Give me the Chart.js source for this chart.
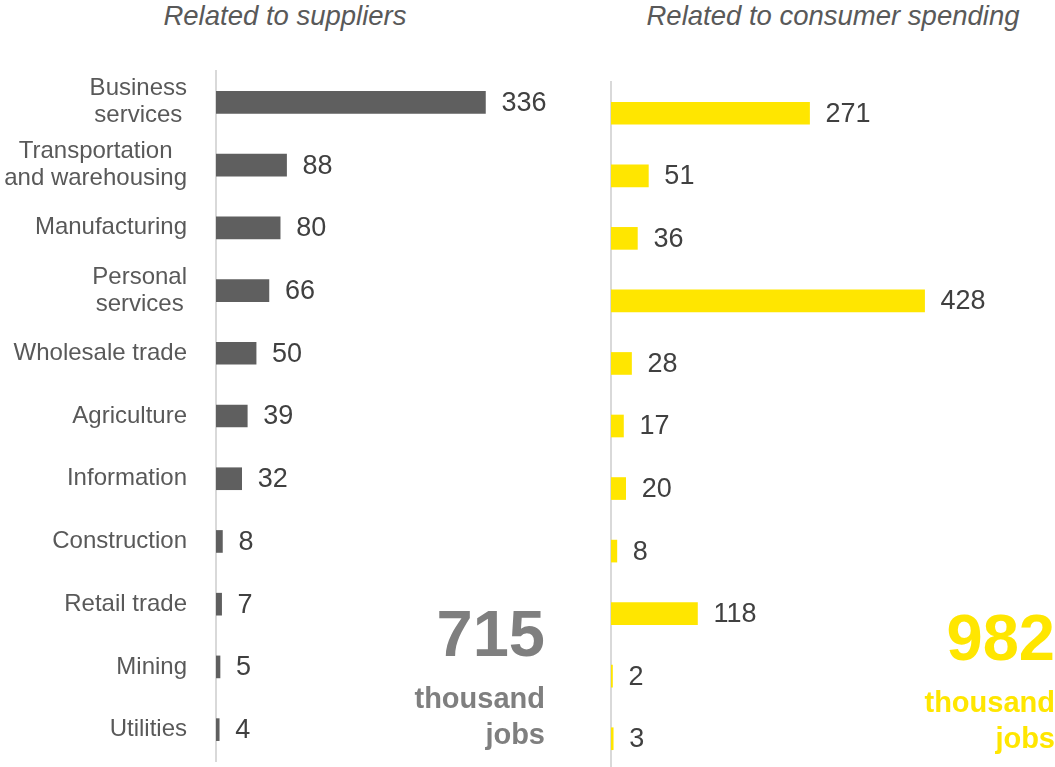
<!DOCTYPE html>
<html lang="en">
<head>
<meta charset="utf-8">
<title>Jobs related to suppliers and consumer spending</title>
<script src="https://cdn.jsdelivr.net/npm/chart.js"></script>
<style>
	html, body { margin: 0; padding: 0; background: #fff; overflow: hidden; }
	body { width: 1055px; height: 767px; position: relative; font-family: "Liberation Sans", Arial, sans-serif; }
	canvas { position: absolute; top: 0; }
	#leftChart { left: 0; }
	#rightChart { left: 560px; }
	.title { position: absolute; top: 0; font-style: italic; font-size: 27.5px; color: #595959; text-align: center; }
	.total { position: absolute; text-align: right; font-weight: bold; }
	.total .num { font-size: 65px; line-height: 66px; }
	.total .unit { font-size: 29px; line-height: 36px; margin-top: 13px; }
</style>
</head>
<body>
	<div class="title" style="left: 135px; width: 300px;">Related to suppliers</div>
	<div class="title" style="left: 613px; width: 440px;">Related to consumer spending</div>

	<canvas id="leftChart" width="560" height="767"></canvas>
	<canvas id="rightChart" width="495" height="772"></canvas>

	<div class="total" style="right: 510px; top: 601px; color: #7f7f7f;">
		<div class="num">715</div>
		<div class="unit">thousand<br>jobs</div>
	</div>
	<div class="total" style="right: 0px; top: 605px; color: #ffe600;">
		<div class="num">982</div>
		<div class="unit">thousand<br>jobs</div>
	</div>

<script>
// data (thousand jobs)
const categories = [
	["Business", "services"],
	["Transportation", "and warehousing"],
	["Manufacturing"],
	["Personal", "services"],
	["Wholesale trade"],
	["Agriculture"],
	["Information"],
	["Construction"],
	["Retail trade"],
	["Mining"],
	["Utilities"]
];
const supplierJobs = [336, 88, 80, 66, 50, 39, 32, 8, 7, 5, 4];
const consumerJobs = [271, 51, 36, 428, 28, 17, 20, 8, 118, 2, 3];

const labelFont = '"Liberation Sans", Arial, sans-serif';

// value labels at the end of each bar
const valueLabels = {
	id: "valueLabels",
	afterDatasetsDraw(chart) {
		const ctx = chart.ctx;
		const meta = chart.getDatasetMeta(0);
		const data = chart.data.datasets[0].data;
		ctx.save();
		ctx.font = "27px " + labelFont;
		ctx.fillStyle = "#404040";
		ctx.textAlign = "left";
		ctx.textBaseline = "middle";
		meta.data.forEach((bar, i) => {
			ctx.fillText(data[i], bar.x + 16, bar.y + 1);
		});
		ctx.restore();
	}
};

// category labels: block right-aligned, lines centered in the block
const categoryLabels = {
	id: "categoryLabels",
	afterDraw(chart) {
		const ctx = chart.ctx;
		const yScale = chart.scales.y;
		const right = 187;
		const lineH = 27;
		ctx.save();
		ctx.font = "24px " + labelFont;
		ctx.fillStyle = "#595959";
		ctx.textAlign = "center";
		ctx.textBaseline = "middle";
		chart.data.labels.forEach((lines, i) => {
			const y = yScale.getPixelForTick(i);
			const w = Math.max(...lines.map(l => ctx.measureText(l).width));
			const cx = right - w / 2;
			const top = y - (lines.length - 1) * lineH / 2;
			lines.forEach((l, j) => ctx.fillText(l, cx, top + j * lineH));
		});
		ctx.restore();
	}
};

function makeChart(id, values, color, xMax, padding, plugins) {
	return new Chart(document.getElementById(id), {
		type: "bar",
		data: {
			labels: categories,
			datasets: [{
				data: values,
				backgroundColor: color,
				barThickness: 22
			}]
		},
		options: {
			indexAxis: "y",
			responsive: false,
			animation: false,
			layout: { padding: padding },
			plugins: {
				legend: { display: false },
				tooltip: { enabled: false }
			},
			scales: {
				x: { display: false, min: 0, max: xMax },
				y: {
					ticks: { display: false },
					grid: { display: false },
					border: { display: true, color: "#d9d9d9", width: 2 },
					afterFit(scale) { scale.width = 0; }
				}
			}
		},
		plugins: plugins
	});
}

makeChart("leftChart", supplierJobs, "#5f5f5f", 429,
	{ left: 216, right: 0, top: 71, bottom: 6 }, [valueLabels, categoryLabels]);
makeChart("rightChart", consumerJobs, "#ffe600", 606,
	{ left: 51, right: 0, top: 82, bottom: 2 }, [valueLabels]);
</script>
</body>
</html>
